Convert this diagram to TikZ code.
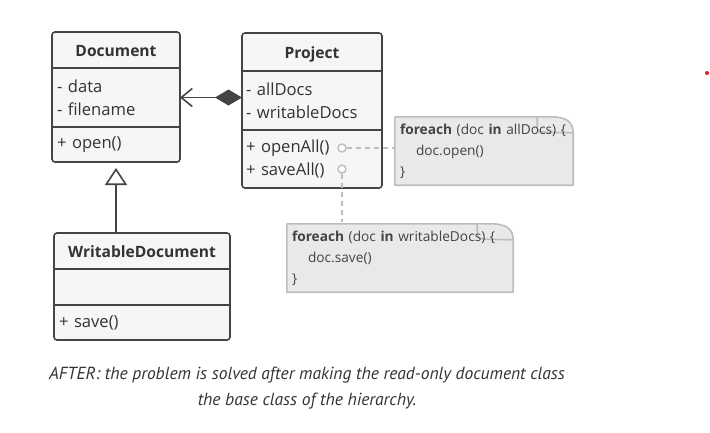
\documentclass[tikz,border=0pt]{standalone}
\usepackage{fontspec}
\setmainfont{Open Sans}
\newfontfamily\capfont{PT Sans}
\usetikzlibrary{positioning,arrows.meta,backgrounds}
\definecolor{linec}{HTML}{444444}
\definecolor{boxc}{HTML}{F6F6F6}
\definecolor{textc}{HTML}{333333}
\definecolor{notec}{HTML}{E9E9E9}
\definecolor{noteline}{HTML}{BDBDBD}
\definecolor{dotc}{HTML}{E02020}

\begin{document}
\begin{tikzpicture}[x=1pt, y=-1pt,
  part/.style={fill=boxc, inner sep=0pt, outer sep=0pt, text=textc},
  head/.style={part, text height=13pt, text depth=0pt, font=\fontsize{15.6}{18}\selectfont\bfseries},
  body/.style={part, align=left, inner xsep=5pt, font=\fontsize{16.6}{23}\selectfont},
  outline/.style={draw=linec, line width=1.6pt},
  notebox/.style={inner xsep=5pt, inner ysep=0pt, align=left, text=linec, font=\fontsize{13.7}{21}\selectfont},
  noteshape/.style={fill=notec, draw=noteline, line width=1.6pt, line join=round},
  noteconn/.style={draw=noteline, line width=1.6pt, dash pattern=on 5pt off 4pt},
  dotpin/.style={circle, draw=noteline, line width=1.4pt, fill=white, minimum size=8pt, inner sep=0pt}]
  \useasboundingbox (0,0) rectangle (710,432);

  % Document
  \node[head, minimum width=128pt, minimum height=36pt] (docHead) at (116,50) {Document};
  \node[body, text width=118pt, minimum height=59pt, below=0pt of docHead] (docAttr) {- data\\- filename};
  \node[body, text width=118pt, minimum height=35pt, below=0pt of docAttr] (docOps) {+ open()};

  % Project
  \node[head, minimum width=140pt, minimum height=38pt] (projHead) at (312,52) {Project};
  \node[body, text width=132pt, minimum height=59pt, below=0pt of projHead, inner xsep=4pt] (projAttr) {- allDocs\\- writableDocs};
  \node[body, text width=132pt, minimum height=58pt, below=0pt of projAttr, inner xsep=4pt] (projOps) {+ openAll()\\+ saveAll()};

  % WritableDocument
  \node[head, minimum width=176pt, minimum height=36pt] (wdocHead) at (142,251) {WritableDocument};
  \node[body, text width=166pt, minimum height=36pt, below=0pt of wdocHead] (wdocAttr) {};
  \node[body, text width=166pt, minimum height=35pt, below=0pt of wdocAttr] (wdocOps) {+ save()};

  \foreach \c in {doc,proj,wdoc} {
    \draw[outline, rounded corners=3pt] (\c Head.north west) rectangle (\c Ops.south east);
    \draw[outline] (\c Attr.north west) -- (\c Attr.north east);
    \draw[outline] (\c Attr.south west) -- (\c Attr.south east);
  }

  % relations
  \draw[outline, {Diamond[length=27pt, width=16pt, fill=linec]}-{Straight Barb[length=11pt, width=18pt]}]
    (projAttr.west |- docAttr.east) -- (docAttr.east);
  \draw[outline, shorten >=6pt, -{Triangle[open, length=17pt, width=22pt, fill=white]}]
    (docOps.south |- wdocHead.north) -- (docOps.south);

  % notes
  \node[notebox, text width=168pt, minimum height=71pt] (note1) at (484,151)
    {\textbf{foreach} (doc \textbf{in} allDocs) \{\\\hspace*{16pt}doc.open()\\\}};
  \node[notebox, text width=216pt, minimum height=71pt] (note2) at (400,258)
    {\textbf{foreach} (doc \textbf{in} writableDocs) \{\\\hspace*{16pt}doc.save()\\\}};
  \begin{scope}[on background layer]
    \foreach \n in {note1,note2} {
      \draw[noteshape] ([yshift=1.5pt]\n.south west) -- ([yshift=-1.5pt]\n.north west)
        -- ([xshift=-22pt, yshift=-1.5pt]\n.north east)
        .. controls ([xshift=-8pt, yshift=-1.5pt]\n.north east) and ([yshift=-6pt]\n.north east) .. ([yshift=-17.5pt]\n.north east)
        -- ([yshift=1.5pt]\n.south east) -- cycle;
      \draw[noteshape] ([xshift=-36pt, yshift=-1.5pt]\n.north east) -- ([xshift=-36pt, yshift=-13pt]\n.north east)
        .. controls ([xshift=-35pt, yshift=-17pt]\n.north east) .. ([yshift=-17.5pt]\n.north east);
    }
  \end{scope}

  \node[dotpin] (openPin) at (342,148) {};
  \node[dotpin] (savePin) at (342,169) {};
  \draw[noteconn] (openPin) -- (openPin -| note1.west);
  \draw[noteconn] (savePin) -- (savePin |- note2.north);

  \node[text=textc, align=center, font=\capfont\itshape\fontsize{17.5}{26}\selectfont] (caption) at (307,388)
    {AFTER: the problem is solved after making the read-only document class\\the base class of the hierarchy.};

  \fill[dotc] (707,73) circle (2pt);
\end{tikzpicture}
\end{document}
